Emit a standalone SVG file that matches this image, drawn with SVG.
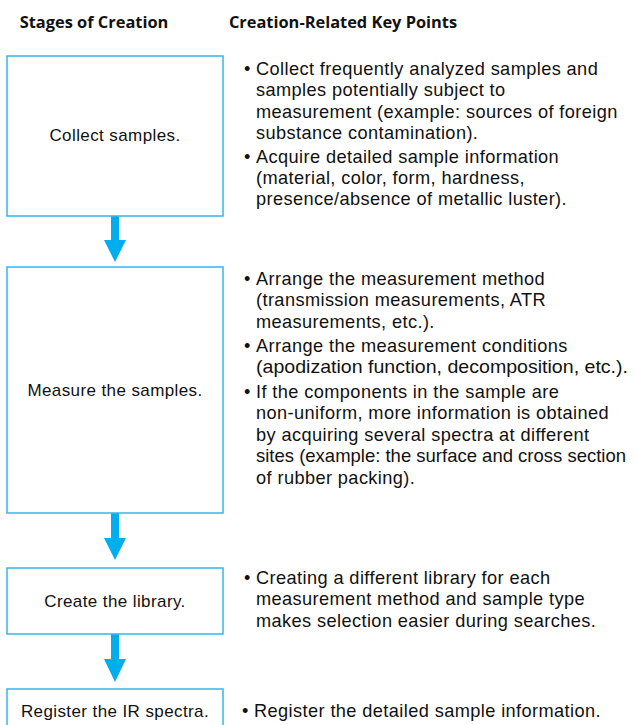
<svg xmlns="http://www.w3.org/2000/svg" width="636" height="725" viewBox="0 0 636 725">
<style>
.hdr{font-family:"Open Sans","Noto Sans",sans-serif;font-weight:bold;font-size:16.4px;fill:#111}
.box{fill:#fff;stroke:#33b5ee;stroke-width:1.5}
.lbl{font-family:"Liberation Sans",Arial,sans-serif;font-size:17px;letter-spacing:0.4px;fill:#111;text-anchor:middle}
.pt{font-family:"Liberation Sans",Arial,sans-serif;font-size:18.2px;letter-spacing:0.4px;fill:#111}
.fit{letter-spacing:0}
.arr{fill:#00aeef}
</style>
<rect width="636" height="725" fill="#fff"/>
<text class="hdr" x="94" y="28" text-anchor="middle">Stages of Creation</text>
<text class="hdr" x="343" y="28" text-anchor="middle">Creation-Related Key Points</text>

<g id="connectors">
<path class="arr" d="M111 216H119V240H126L115 262L104 240H111Z"/>
<path class="arr" d="M111 513H119V538H126L115 560L104 538H111Z"/>
<path class="arr" d="M111 634H119V659H126L115 682L104 659H111Z"/>
</g>

<g id="n1">
<rect class="box" x="7" y="56" width="216" height="160"/>
<text class="lbl" x="115" y="141">Collect samples.</text>
</g>
<g id="n2">
<rect class="box" x="7" y="267" width="216" height="246"/>
<text class="lbl" x="115" y="396">Measure the samples.</text>
</g>
<g id="n3">
<rect class="box" x="7" y="568" width="216" height="66"/>
<text class="lbl" x="115" y="607">Create the library.</text>
</g>
<g id="n4">
<rect class="box" x="7" y="689" width="216" height="50"/>
<text class="lbl" x="115" y="717">Register the IR spectra.</text>
</g>

<g id="k1" class="pt">
<text x="244" y="75">•</text>
<text x="256" y="75">Collect frequently analyzed samples and</text>
<text x="256" y="96">samples potentially subject to</text>
<text x="256" y="118">measurement (example: sources of foreign</text>
<text x="256" y="139">substance contamination).</text>
<text x="244" y="163">•</text>
<text x="256" y="163">Acquire detailed sample information</text>
<text x="256" y="184">(material, color, form, hardness,</text>
<text x="256" y="205">presence/absence of metallic luster).</text>
</g>
<g id="k2" class="pt">
<text x="244" y="285">•</text>
<text x="256" y="285">Arrange the measurement method</text>
<text x="256" y="306">(transmission measurements, ATR</text>
<text x="256" y="328">measurements, etc.).</text>
<text x="244" y="352">•</text>
<text x="256" y="352">Arrange the measurement conditions</text>
<text class="fit" x="256" y="373" textLength="372" lengthAdjust="spacingAndGlyphs">(apodization function, decomposition, etc.).</text>
<text x="244" y="398">•</text>
<text x="256" y="398">If the components in the sample are</text>
<text x="256" y="419">non-uniform, more information is obtained</text>
<text x="256" y="441">by acquiring several spectra at different</text>
<text class="fit" x="256" y="462" textLength="370" lengthAdjust="spacingAndGlyphs">sites (example: the surface and cross section</text>
<text x="256" y="484">of rubber packing).</text>
</g>
<g id="k3" class="pt">
<text x="244" y="584">•</text>
<text x="256" y="584">Creating a different library for each</text>
<text x="256" y="605">measurement method and sample type</text>
<text x="256" y="627">makes selection easier during searches.</text>
</g>
<g id="k4" class="pt">
<text x="242" y="717">•</text>
<text x="254" y="717">Register the detailed sample information.</text>
</g>
</svg>
